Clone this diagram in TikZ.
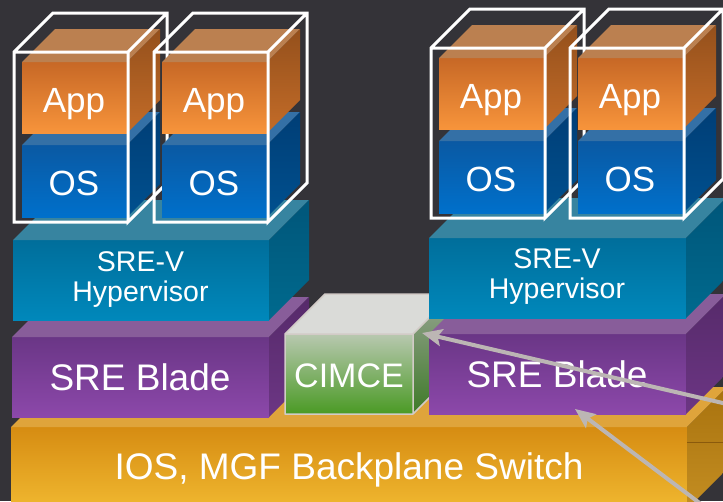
\documentclass[tikz,border=0pt]{standalone}
\usepackage{fontspec}
\setmainfont{Liberation Sans}
\usetikzlibrary{arrows.meta}
\definecolor{bgc}{HTML}{343338}
\definecolor{appft}{HTML}{C76826}
\definecolor{appfb}{HTML}{F7943B}
\definecolor{appt}{HTML}{BB8050}
\definecolor{appst}{HTML}{94501C}
\definecolor{appsb}{HTML}{C46C28}
\definecolor{osft}{HTML}{0A59A3}
\definecolor{osfb}{HTML}{0070CB}
\definecolor{ost}{HTML}{3470A6}
\definecolor{osst}{HTML}{003E76}
\definecolor{ossb}{HTML}{00508F}
\definecolor{hypft}{HTML}{006E9B}
\definecolor{hypfb}{HTML}{0088BB}
\definecolor{hypt}{HTML}{3784A0}
\definecolor{hypst}{HTML}{00567A}
\definecolor{hypsb}{HTML}{006A8E}
\definecolor{bldft}{HTML}{6A3686}
\definecolor{bldfb}{HTML}{8C48AA}
\definecolor{bldt}{HTML}{885D9A}
\definecolor{bldst}{HTML}{562A6A}
\definecolor{bldsb}{HTML}{6C3684}
\definecolor{iosft}{HTML}{D68C12}
\definecolor{iosfb}{HTML}{F0B830}
\definecolor{iost}{HTML}{DFA43B}
\definecolor{iosst}{HTML}{A8720E}
\definecolor{iossb}{HTML}{C48E22}
\definecolor{cimft}{HTML}{B8C8B0}
\definecolor{cimfb}{HTML}{4A9A24}
\definecolor{cimt}{HTML}{DADBD8}
\definecolor{cimst}{HTML}{97A492}
\definecolor{cimsb}{HTML}{3E7A28}
\definecolor{cimbd}{HTML}{D2CBC7}
\definecolor{arrc}{HTML}{BCB6B4}
\definecolor{iosln}{HTML}{8A5A0C}
\newcommand\cub[6]{%
  \shade[top color=#6ft,bottom color=#6fb] ({#1},{#2}) rectangle ({#3},{#4});
  \fill[#6t] ({#1},{#2}) -- ({#1+#5},{#2-#5}) -- ({#3+#5},{#2-#5}) -- ({#3},{#2}) -- cycle;
  \shade[top color=#6st,bottom color=#6sb] ({#3},{#2}) -- ({#3+#5},{#2-#5}) -- ({#3+#5},{#4-#5}) -- ({#3},{#4}) -- cycle;
}
\newcommand\fsA{\fontsize{35}{40}\selectfont}
\newcommand\fsB{\fontsize{37}{42}\selectfont}
\newcommand\fsH{\fontsize{28.5}{30}\selectfont}
\newcommand\fsC{\fontsize{34}{40}\selectfont}
\newcommand\vmst[3]{%
  \cub{#1+8}{#2+93}{#1+113}{#2+165}{33}{os}
  \cub{#1+8}{#2+10}{#1+113}{#2+81}{33}{app}
  \node[lbl,font=\fsA] (#3app) at ({#1+60},{#2+60}) {App};
  \node[lbl,font=\fsA] (#3os) at ({#1+60},{#2+143}) {OS};
  \draw[wire] ({#1+114},{#2+170}) -- ({#1},{#2+170}) -- ({#1},{#2}) -- ({#1+39},{#2-39})
     -- ({#1+153},{#2-39}) -- ({#1+153},{#2+131}) -- ({#1+114},{#2+170}) -- ({#1+114},{#2})
     -- ({#1},{#2}) ({#1+114},{#2}) -- ({#1+153},{#2-39});
}
\begin{document}
\begin{tikzpicture}[x=1pt,y=-1pt,
  lbl/.style={text=white,inner sep=0pt,anchor=base},
  hyl/.style={text=white,inner sep=0pt,align=center,font=\fsH},
  wire/.style={draw=white,line width=3pt,line join=miter},
  arr/.style={draw=arrc,line width=4pt,-{Stealth[length=20pt,width=17pt,inset=4pt]}}]
\useasboundingbox (0,0) rectangle (723,501);
\clip (0,0) rectangle (723,501);
\fill[bgc] (0,0) rectangle (723,501);
% backplane
\cub{11}{427}{687}{509}{40}{ios}
\draw[iosln,line width=1pt] (687,442) -- (727,442);
\node[lbl,font=\fsB] (ios) at (349,479) {IOS, MGF Backplane Switch};
% left blade + hypervisor
\cub{12}{337}{269}{417}{40}{bld}
\node[lbl,font=\fsB] (bladeL) at (140,390) {SRE Blade};
\cub{13}{240}{269}{320}{40}{hyp}
\node[hyl] (hypL) at (140.5,280) {SRE-V\\Hypervisor};
% CIMCE
\cub{285}{334}{413}{414}{40}{cim}
\draw[cimbd,line width=1.5pt,line join=round] (285,334) rectangle (413,414)
  (285,334) -- (325,294) -- (453,294) -- (413,334) (413,414) -- (453,374) -- (453,294);
\node[lbl,font=\fsC] (cimce) at (349,387) {CIMCE};
% right blade + hypervisor
\cub{429}{334}{686}{414}{40}{bld}
\node[lbl,font=\fsB] (bladeR) at (557,387) {SRE Blade};
\cub{429}{238}{686}{318}{40}{hyp}
\node[hyl] (hypR) at (557,277) {SRE-V\\Hypervisor};
% virtual machines
\vmst{14}{52}{l1}
\vmst{154}{52}{l2}
\vmst{431}{48}{r1}
\vmst{570}{48}{r2}
% arrows
\coordinate (a1s) at (770,414);
\coordinate (a1e) at (422,333);
\coordinate (a2s) at (730,526);
\coordinate (a2e) at (575,409);
\draw[arr] (a1s) -- (a1e);
\draw[arr] (a2s) -- (a2e);
\end{tikzpicture}
\end{document}
